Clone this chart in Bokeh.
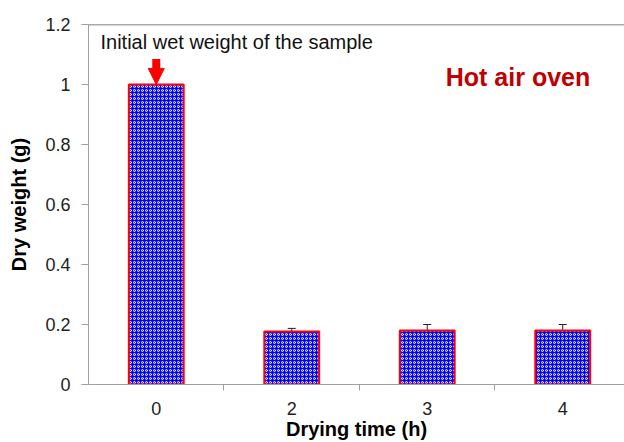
from bokeh.plotting import figure
from bokeh.models import (Range1d, FixedTicker, Whisker, ColumnDataSource, Arrow,
                          NormalHead, Span, Label)
from bokeh.embed import file_html
from bokeh.resources import INLINE

categories = ["0", "2", "3", "4"]
dry_weight = [1.0, 0.177, 0.18, 0.18]
error = [0.0, 0.01, 0.02, 0.02]
y_ticks = [0, 0.2, 0.4, 0.6, 0.8, 1.0, 1.2]
y_tick_labels = ["0", "0.2", "0.4", "0.6", "0.8", "1", "1.2"]

xs = list(range(len(categories)))
src = ColumnDataSource(dict(x=xs, top=dry_weight))

FONT = "Liberation Sans"

p = figure(width=624, height=442, output_backend="svg", toolbar_location=None,
           x_range=Range1d(-0.5, 3.456), y_range=Range1d(0, 1.2),
           min_border_left=88, min_border_right=0, min_border_top=24, min_border_bottom=58)
p.outline_line_color = None
p.xgrid.visible = False
p.ygrid.visible = False
p.background_fill_color = "white"

p.vbar(x="x", top="top", width=0.405, bottom=0, source=src,
       fill_color="#0000FF", line_color="#FF0000", line_width=2,
       hatch_pattern="ring", hatch_color="white", hatch_scale=4, hatch_weight=1)

err_src = ColumnDataSource(dict(
    x=[x for x, e in zip(xs, error) if e > 0],
    upper=[v + e for v, e in zip(dry_weight, error) if e > 0],
    lower=[v - e for v, e in zip(dry_weight, error) if e > 0],
))
w = Whisker(base="x", upper="upper", lower="lower", source=err_src,
            line_color="#222222", line_width=1)
w.upper_head.size = 8
w.lower_head.size = 8
w.upper_head.line_color = "#222222"
w.lower_head.line_color = "#222222"
p.add_layout(w)

# top border
p.add_layout(Span(location=1.2, dimension="width", line_color="#555555", line_width=1.5))

# arrow
p.add_layout(Arrow(x_start=xs[0], y_start=dry_weight[0] + 0.085, x_end=xs[0], y_end=dry_weight[0],
                   line_color="#FF0000", line_width=8,
                   end=NormalHead(size=16, fill_color="#FF0000", line_color="#FF0000")))

p.add_layout(Label(x=12, y=1.142, x_units="screen", text="Initial wet weight of the sample",
                   text_font=FONT, text_font_size="20px", text_color="#111111",
                   text_baseline="middle"))
p.add_layout(Label(x=2.67, y=1.024, text="Hot air oven", text_font=FONT,
                   text_font_size="25px", text_font_style="bold", text_color="#C00000",
                   text_align="center", text_baseline="middle"))

# axes
p.yaxis.ticker = FixedTicker(ticks=y_ticks)
p.yaxis.major_label_overrides = {t: l for t, l in zip(y_ticks, y_tick_labels)}
p.yaxis.axis_label = "Dry weight (g)"
p.xaxis.ticker = FixedTicker(ticks=xs, minor_ticks=[x + 0.5 for x in xs[:-1]])
p.xaxis.major_label_overrides = {x: c for x, c in zip(xs, categories)}
p.xaxis.axis_label = "Drying time (h)"

for ax in (p.xaxis, p.yaxis):
    ax.axis_line_color = "#A0A0A0"
    ax.axis_line_width = 1
    ax.major_label_text_font = FONT
    ax.major_label_text_font_size = "18px"
    ax.major_label_text_color = "#222222"
    ax.axis_label_text_font = FONT
    ax.axis_label_text_font_size = "20px"
    ax.axis_label_text_font_style = "bold"
    ax.axis_label_text_color = "#000000"
p.yaxis.major_tick_line_color = "#A0A0A0"
p.yaxis.major_tick_out = 7
p.yaxis.major_tick_in = 0
p.yaxis.minor_tick_line_color = None
p.yaxis.major_label_standoff = 11
p.yaxis.axis_label_standoff = 12
p.xaxis.major_tick_line_color = None
p.xaxis.major_tick_out = 0
p.xaxis.major_tick_in = 0
p.xaxis.minor_tick_line_color = "#A0A0A0"
p.xaxis.minor_tick_out = 6
p.xaxis.minor_tick_in = 0
p.xaxis.major_label_standoff = 11
p.xaxis.axis_label_standoff = 0

open("out.html", "w").write(file_html(p, INLINE))
